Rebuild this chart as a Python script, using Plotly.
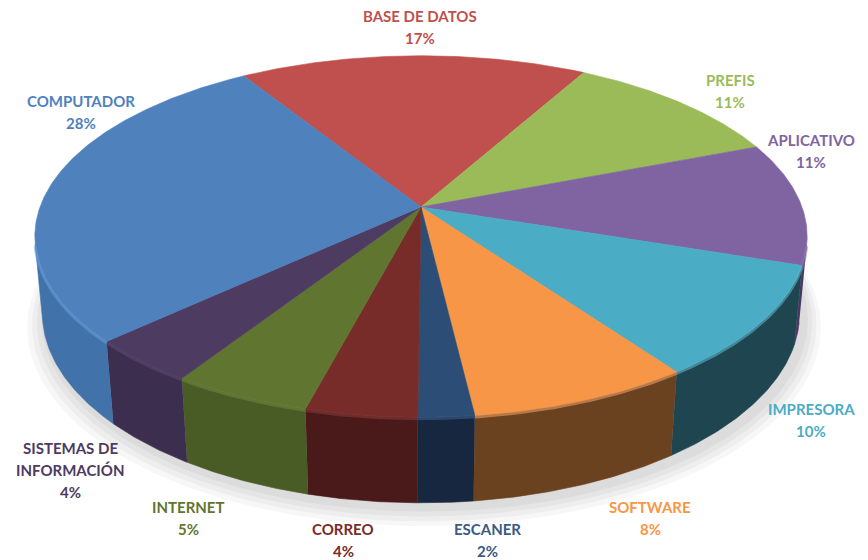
import math
import textwrap
import numpy as np
import plotly.graph_objects as go

# ---------------- data ----------------
categories = ["BASE DE DATOS", "PREFIS", "APLICATIVO", "IMPRESORA", "SOFTWARE",
              "ESCANER", "CORREO", "INTERNET", "SISTEMAS DE INFORMACIÓN", "COMPUTADOR"]
values = [17, 11, 11, 10, 8, 2, 4, 5, 4, 28]

# ---------------- styles ----------------
top_colors = ["#C0504D", "#9BBB59", "#8064A2", "#4BACC6", "#F79646",
              "#2C4D75", "#772C2A", "#5F7530", "#4D3B62", "#4F81BD"]
side_colors = ["#7A2F2D", "#5E7434", "#4A3763", "#1F4650", "#6A421F",
               "#16273F", "#4A1A1B", "#4A5C25", "#3C2E4E", "#4272AA"]
rim_colors = ["#D06360", "#ADCB6C", "#9278B6", "#62BCD4", "#F9A66A",
              "#3E6290", "#8A3B39", "#6F8840", "#5E4A76", "#69A0DD"]
label_colors = ["#C0504D", "#9BBB59", "#8064A2", "#4BACC6", "#F79646",
                "#3A5A85", "#772C2A", "#5F7530", "#4D3B62", "#4F81BD"]
# label centre positions (pixels)
label_pos = [(420, 27), (730, 91), (811, 151), (811, 420), (650, 518),
             (487, 540), (343, 540), (188, 518), (70, 470), (81, 112)]
LINE_GAP = 22

OFF = 8  # page body margin
W, H = 868, 560
CX, CY, S = 421, 207, 381
ELEV = math.radians(27.5)
DIST = 5.44
DEPTH = 0.229
START = -32.0
se, ce = math.sin(ELEV), math.cos(ELEV)


def proj(theta_deg, z):
    t = np.radians(theta_deg)
    X, Y = np.sin(t), np.cos(t)
    u = X
    v = Y * se + z * ce
    w = Y * ce - z * se
    d = 1 + w / DIST
    return CX + S * u / d, CY - S * v / d


total = float(sum(values))
angles = [START]
for v in values:
    angles.append(angles[-1] + 360.0 * v / total)

cth = -1.0 / (DIST * ce)
vis_a = math.degrees(math.acos(cth))
vis_b = 360 - vis_a

fig = go.Figure()

# soft shadow
for k, alpha in enumerate([0.035, 0.035, 0.035, 0.03]):
    th = np.linspace(0, 360, 361)
    bx, by = proj(th, -DEPTH)
    sc = 1.0 + 0.012 * (k + 1)
    mx, my = CX + 20, CY + 60
    fig.add_trace(go.Scatter(x=(bx - mx) * sc + mx + 4, y=(by - my) * sc + my + 6 + 2 * k,
                             mode="lines", fill="toself", line=dict(width=0),
                             fillcolor=f"rgba(0,0,0,{alpha})", hoverinfo="skip"))

# side walls
rim_segments = []
for i, v in enumerate(values):
    a0, a1 = angles[i], angles[i + 1]
    for off in (-360, 0, 360):
        lo = max(a0 + off, vis_a)
        hi = min(a1 + off, vis_b)
        if hi > lo:
            th = np.linspace(lo, hi, max(4, int((hi - lo) * 2)))
            tx, ty = proj(th, 0.0)
            bx, by = proj(th[::-1], -DEPTH)
            fig.add_trace(go.Scatter(x=np.concatenate([tx, bx]), y=np.concatenate([ty, by]),
                                     mode="lines", fill="toself",
                                     line=dict(width=0.6, color=side_colors[i]),
                                     fillcolor=side_colors[i], hoverinfo="skip"))
            rim_segments.append((i, tx, ty))

# top faces
for i, v in enumerate(values):
    a0, a1 = angles[i], angles[i + 1]
    th = np.linspace(a0, a1, max(4, int((a1 - a0) * 2)))
    tx, ty = proj(th, 0.0)
    xs = np.concatenate([[CX], tx, [CX]])
    ys = np.concatenate([[CY], ty, [CY]])
    fig.add_trace(go.Scatter(x=xs, y=ys, mode="lines", fill="toself",
                             line=dict(width=0.6, color=top_colors[i]),
                             fillcolor=top_colors[i], name=categories[i],
                             hovertext=f"{categories[i]}: {v}%", hoverinfo="text"))

# bevel highlight along the front rim
for i, tx, ty in rim_segments:
    fig.add_trace(go.Scatter(x=tx, y=ty + 1.5, mode="lines",
                             line=dict(width=3, color=rim_colors[i]),
                             opacity=0.55, hoverinfo="skip"))

# labels (one annotation per line for Excel-like line spacing)
for i, v in enumerate(values):
    lines = textwrap.wrap(categories[i], 13) + [f"{v}%"]
    x, yc = label_pos[i]
    n = len(lines)
    for j, ln in enumerate(lines):
        y = yc + (j - (n - 1) / 2) * LINE_GAP
        fig.add_annotation(x=x, y=y, xref="x", yref="y", text=f"<b>{ln}</b>",
                           showarrow=False, xanchor="center", yanchor="middle",
                           font=dict(family="Lato", size=15, color=label_colors[i]))

fig.update_layout(width=W - OFF, height=H - OFF, margin=dict(l=0, r=0, t=0, b=0),
                  paper_bgcolor="white", plot_bgcolor="white", showlegend=False,
                  xaxis=dict(range=[OFF, W], visible=False, fixedrange=True),
                  yaxis=dict(range=[H, OFF], visible=False, fixedrange=True))
fig.write_html("out.html")
